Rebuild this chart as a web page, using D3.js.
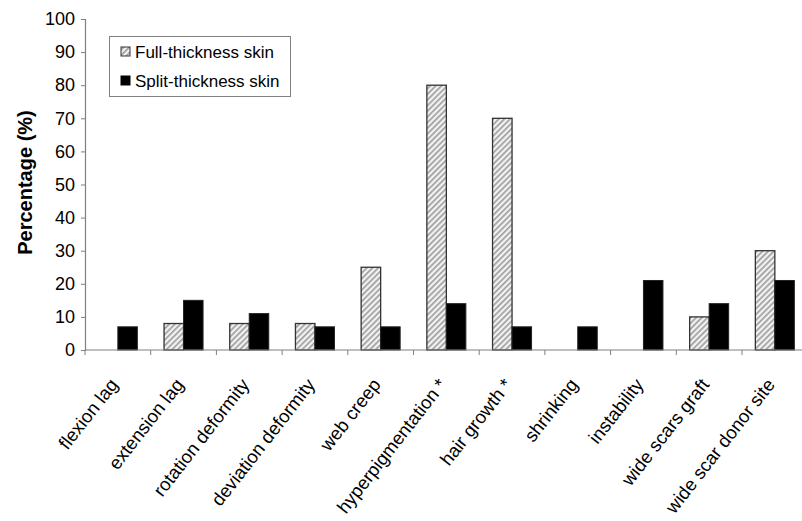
<!DOCTYPE html>
<html>
<head>
<meta charset="utf-8">
<script src="https://cdn.jsdelivr.net/npm/d3@7"></script>
<style>
  html, body { margin: 0; padding: 0; background: #fff; }
  svg { display: block; font-family: "Liberation Sans", Arial, sans-serif; }
</style>
</head>
<body>
<svg id="chart" width="802" height="521"></svg>
<script>
const categories = ["flexion lag", "extension lag", "rotation deformity", "deviation deformity", "web creep",
  "hyperpigmentation *", "hair growth *", "shrinking", "instability", "wide scars graft", "wide scar donor site"];
const fullThickness = [0, 8, 8, 8, 25, 80, 70, 0, 0, 10, 30];
const splitThickness = [7, 15, 11, 7, 7, 14, 7, 7, 21, 14, 21];
const seriesNames = ["Full-thickness skin", "Split-thickness skin"];
const yTicks = [0, 10, 20, 30, 40, 50, 60, 70, 80, 90, 100];

const svg = d3.select("#chart");
const x0 = 85, y0 = 350, yTop = 19, step = 65.7;

const defs = svg.append("defs");
const pat = defs.append("pattern").attr("id", "hatch").attr("patternUnits", "userSpaceOnUse")
  .attr("width", 4).attr("height", 4).attr("patternTransform", "rotate(45)");
pat.append("rect").attr("width", 4).attr("height", 4).attr("fill", "#f2f2f2");
pat.append("rect").attr("x", 0).attr("y", 0).attr("width", 1.6).attr("height", 4).attr("fill", "#9a9a9a");

const x = d3.scaleBand().domain(categories).range([x0, x0 + step * categories.length]).padding(0);
const y = d3.scaleLinear().domain([0, 100]).range([y0, yTop]);
const barW = 19.5;

// y axis
const yAxis = d3.axisLeft(y).tickValues(yTicks).tickSize(4).tickPadding(6);
const gy = svg.append("g").attr("transform", `translate(${x0},0)`).call(yAxis);
gy.select(".domain").attr("stroke", "#808080").attr("stroke-width", 1.2);
gy.selectAll(".tick line").attr("stroke", "#808080");
gy.selectAll(".tick text").attr("font-size", 18).attr("fill", "#000")
  .attr("font-family", "Liberation Sans, Arial, sans-serif");

// bars
const groups = svg.append("g").selectAll("g").data(categories).join("g");
groups.append("rect")
  .attr("x", (d) => x(d) + x.bandwidth() / 2 - barW)
  .attr("y", (d, i) => y(fullThickness[i]))
  .attr("width", barW)
  .attr("height", (d, i) => y0 - y(fullThickness[i]))
  .attr("fill", "url(#hatch)")
  .attr("stroke", (d, i) => fullThickness[i] > 0 ? "#333" : "none")
  .attr("stroke-width", 1.3);
groups.append("rect")
  .attr("x", (d) => x(d) + x.bandwidth() / 2)
  .attr("y", (d, i) => y(splitThickness[i]))
  .attr("width", barW)
  .attr("height", (d, i) => y0 - y(splitThickness[i]))
  .attr("fill", "#000")
  .attr("stroke", "#222")
  .attr("stroke-width", 1);

// x axis
const xBounds = d3.range(categories.length + 1).map(i => x0 + i * step);
svg.append("line").attr("x1", x0).attr("x2", 802).attr("y1", y0).attr("y2", y0)
  .attr("stroke", "#808080").attr("stroke-width", 1.2);
svg.append("g").selectAll("line").data(xBounds).join("line")
  .attr("x1", d => d).attr("x2", d => d).attr("y1", y0).attr("y2", y0 + 5)
  .attr("stroke", "#808080");
svg.append("g").selectAll("text").data(categories).join("text")
  .attr("transform", d => `translate(${x(d) + x.bandwidth() / 2 + 1},${y0 + 35}) rotate(-52)`)
  .attr("text-anchor", "end")
  .attr("font-size", 18.5)
  .attr("fill", "#000")
  .text(d => d);

// y title
svg.append("text")
  .attr("transform", `translate(32,${(y0 + yTop) / 2 - 2}) rotate(-90)`)
  .attr("text-anchor", "middle")
  .attr("font-size", 20).attr("font-weight", "bold")
  .text("Percentage (%)");

// legend
const lg = svg.append("g");
lg.append("rect").attr("x", 109.5).attr("y", 36.5).attr("width", 181).attr("height", 60)
  .attr("fill", "#fff").attr("stroke", "#808080").attr("stroke-width", 1);
const fills = ["url(#hatch)", "#000"];
seriesNames.forEach((name, i) => {
  const cy = 52 + i * 29;
  lg.append("rect").attr("x", 121).attr("y", cy - 5).attr("width", 9).attr("height", 9)
    .attr("fill", fills[i]).attr("stroke", i === 0 ? "#333" : "#000").attr("stroke-width", 1);
  lg.append("text").attr("x", 135).attr("y", cy + 6).attr("font-size", 17).attr("fill", "#000").text(name);
});
</script>
</body>
</html>
